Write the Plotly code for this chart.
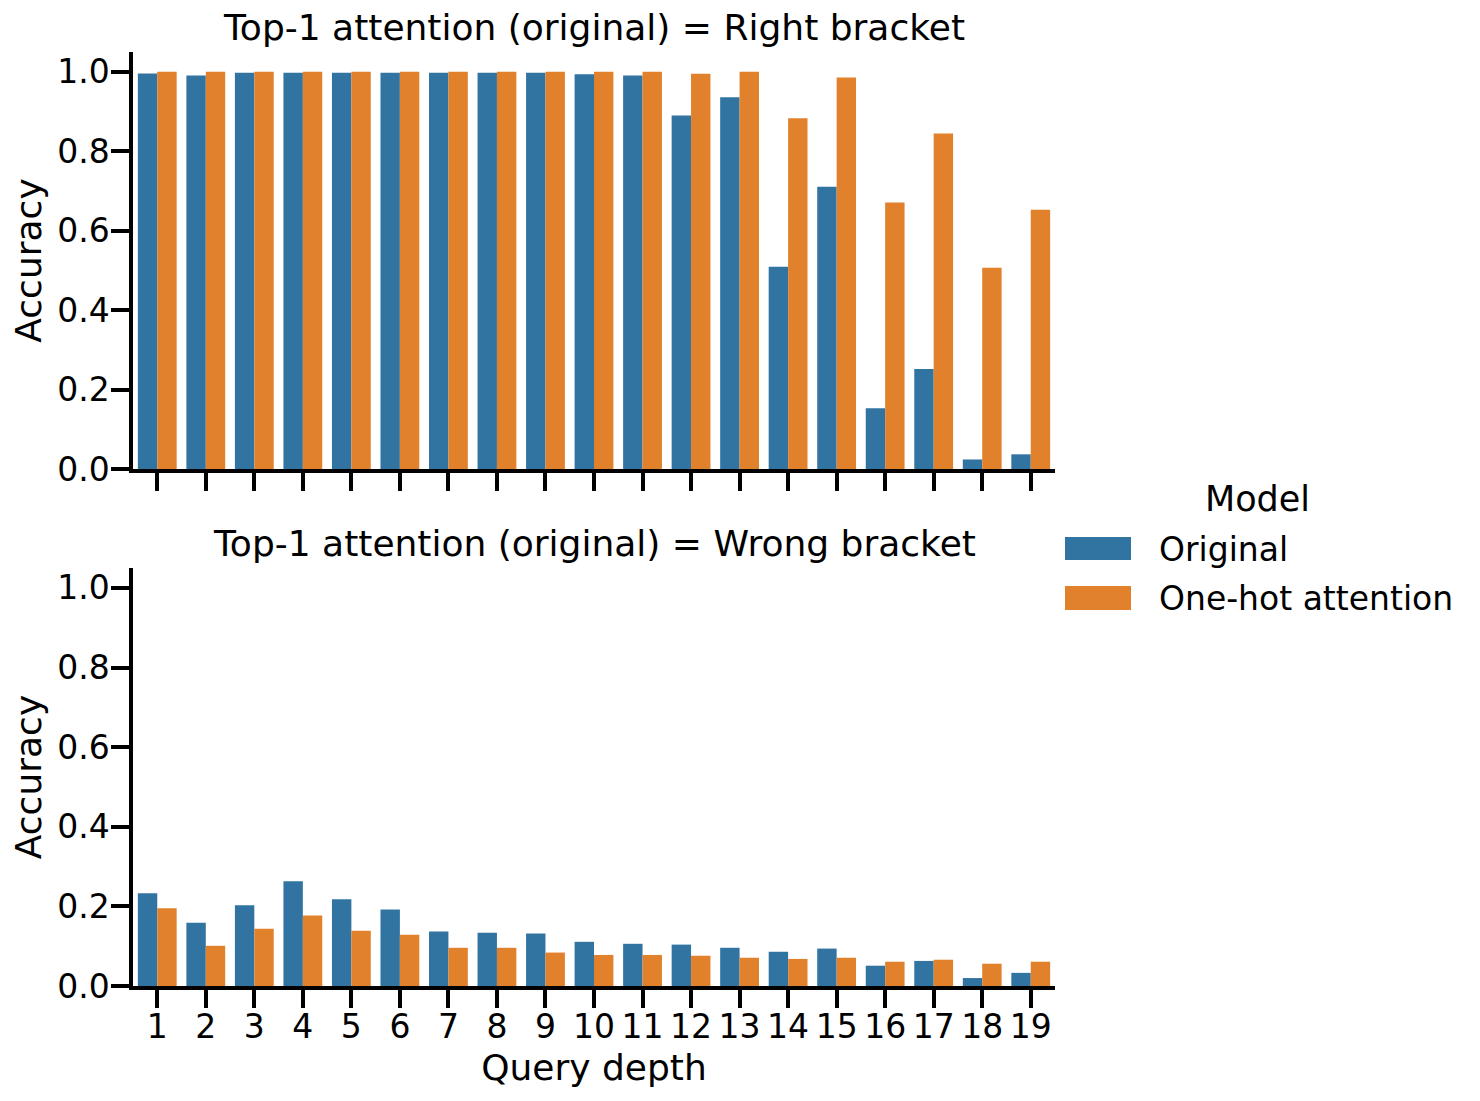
import plotly.graph_objects as go

# ---------------- data ----------------
depth = list(range(1, 20))
tick_labels = [str(d) for d in depth]
series_names = ["Original", "One-hot attention"]
panel_titles = ["Top-1 attention (original) = Right bracket",
                "Top-1 attention (original) = Wrong bracket"]

right_original = [0.996, 0.991, 0.998, 0.998, 0.998, 0.998, 0.998, 0.998, 0.998, 0.994,
                  0.991, 0.890, 0.936, 0.509, 0.711, 0.153, 0.252, 0.024, 0.037]
right_onehot = [1.0, 1.0, 1.0, 1.0, 1.0, 1.0, 1.0, 1.0, 1.0, 1.0,
                1.0, 0.995, 1.0, 0.883, 0.986, 0.671, 0.845, 0.507, 0.653]
wrong_original = [0.233, 0.159, 0.203, 0.263, 0.218, 0.192, 0.137, 0.134, 0.132, 0.111,
                  0.106, 0.104, 0.096, 0.086, 0.094, 0.051, 0.063, 0.020, 0.033]
wrong_onehot = [0.195, 0.101, 0.144, 0.177, 0.139, 0.129, 0.096, 0.096, 0.084, 0.078,
                0.078, 0.076, 0.071, 0.068, 0.071, 0.061, 0.066, 0.056, 0.061]

colors = ["#3274A1", "#E1812C"]

# ---------------- layout geometry (pixels) ----------------
W, H = 1480, 1101
OFF = 8  # page body margin
ML = 133 - OFF
MT = 52 - OFF
MB = H - (986 - OFF)
MR = W - (1055 - OFF)
PW = W - ML - MR
PH = H - MT - MB
FONT = "DejaVu Sans"


def px_x(p):
    return (p - OFF - ML) / PW


def px_y(p):
    return (H - MB - (p - OFF)) / PH


top_domain = [px_y(469), 1.0]
bot_domain = [0.0, px_y(568)]

fig = go.Figure()
panels = [(right_original, right_onehot, "x", "y"),
          (wrong_original, wrong_onehot, "x2", "y2")]
for (orig, onehot, xa, ya) in panels:
    for name, vals, col in zip(series_names, [orig, onehot], colors):
        fig.add_trace(go.Bar(x=depth, y=vals, name=name, marker_color=col,
                             marker_line_width=0, xaxis=xa, yaxis=ya,
                             showlegend=False))

axis_common = dict(showline=True, linecolor="black", linewidth=3.5,
                   ticks="outside", ticklen=18, tickwidth=3.5, tickcolor="black",
                   showgrid=False, zeroline=False,
                   tickfont=dict(family=FONT, size=33, color="black"))

fig.update_layout(
    width=W, height=H,
    margin=dict(l=ML, r=MR, t=MT, b=MB),
    paper_bgcolor="white", plot_bgcolor="white",
    barmode="group", bargap=0.2, bargroupgap=0.0,
    font=dict(family=FONT, color="black"),
    xaxis=dict(domain=[0, 1], anchor="y", range=[0.5, 19.5], tickvals=depth,
               ticktext=tick_labels, showticklabels=False, matches="x2", **axis_common),
    yaxis=dict(domain=top_domain, anchor="x", range=[0, 1.05],
               tickvals=[0, 0.2, 0.4, 0.6, 0.8, 1.0], tickformat=".1f",
               ticklabelstandoff=-5,
               title=dict(text="Accuracy", font=dict(family=FONT, size=36), standoff=7),
               **axis_common),
    xaxis2=dict(domain=[0, 1], anchor="y2", range=[0.5, 19.5], tickvals=depth,
                ticktext=tick_labels, ticklabelstandoff=-9,
                title=dict(text="Query depth", font=dict(family=FONT, size=36), standoff=10),
                **axis_common),
    yaxis2=dict(domain=bot_domain, anchor="x2", range=[0, 1.05],
                tickvals=[0, 0.2, 0.4, 0.6, 0.8, 1.0], tickformat=".1f",
                ticklabelstandoff=-5,
                title=dict(text="Accuracy", font=dict(family=FONT, size=36), standoff=7),
                **axis_common),
)

# panel titles
for title, dom in zip(panel_titles, [top_domain, bot_domain]):
    fig.add_annotation(text=title, x=0.5, xref="paper", y=dom[1], yref="paper",
                       xanchor="center", yanchor="bottom", yshift=2, showarrow=False,
                       font=dict(family=FONT, size=36, color="black"))

# legend (drawn manually to match patch shape)
fig.add_annotation(text="Model", x=px_x(1257), xref="paper", y=px_y(499), yref="paper",
                   xanchor="center", yanchor="middle", showarrow=False,
                   font=dict(family=FONT, size=35, color="black"))
legend_rows = [(537, 560, 549), (586, 610, 598)]
for name, col, (y0, y1, yt) in zip(series_names, colors, legend_rows):
    fig.add_shape(type="rect", xref="paper", yref="paper",
                  x0=px_x(1065), x1=px_x(1131), y0=px_y(y1), y1=px_y(y0),
                  fillcolor=col, line_width=0)
    fig.add_annotation(text=name, x=px_x(1157), xref="paper", y=px_y(yt), yref="paper",
                       xanchor="left", yanchor="middle", showarrow=False,
                       font=dict(family=FONT, size=33, color="black"))

fig.write_html("out.html")
